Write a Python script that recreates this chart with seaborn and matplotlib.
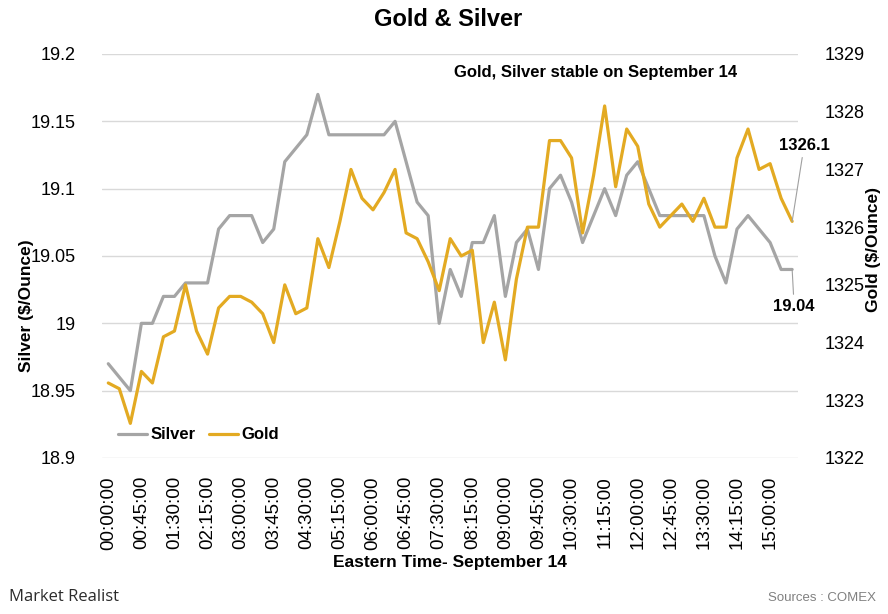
import pandas as pd
import seaborn as sns
import matplotlib.pyplot as plt

# ====================== DATA ======================
# Silver ($/oz) and Gold ($/oz), every 15 minutes on September 14
silver = [18.97, 18.96, 18.95, 19.00, 19.00, 19.02, 19.02, 19.03, 19.03, 19.03,
          19.07, 19.08, 19.08, 19.08, 19.06, 19.07, 19.12, 19.13, 19.14, 19.17,
          19.14, 19.14, 19.14, 19.14, 19.14, 19.14, 19.15, 19.12, 19.09, 19.08,
          19.00, 19.04, 19.02, 19.06, 19.06, 19.08, 19.02, 19.06, 19.07, 19.04,
          19.10, 19.11, 19.09, 19.06, 19.08, 19.10, 19.08, 19.11, 19.12, 19.10,
          19.08, 19.08, 19.08, 19.08, 19.08, 19.05, 19.03, 19.07, 19.08, 19.07,
          19.06, 19.04, 19.04]
gold = [1323.3, 1323.2, 1322.6, 1323.5, 1323.3, 1324.1, 1324.2, 1325.0, 1324.2, 1323.8,
        1324.6, 1324.8, 1324.8, 1324.7, 1324.5, 1324.0, 1325.0, 1324.5, 1324.6, 1325.8,
        1325.3, 1326.1, 1327.0, 1326.5, 1326.3, 1326.6, 1327.0, 1325.9, 1325.8, 1325.4,
        1324.9, 1325.8, 1325.5, 1325.6, 1324.0, 1324.7, 1323.7, 1325.1, 1326.0, 1326.0,
        1327.5, 1327.5, 1327.2, 1325.9, 1326.9, 1328.1, 1326.7, 1327.7, 1327.4, 1326.4,
        1326.0, 1326.2, 1326.4, 1326.1, 1326.5, 1326.0, 1326.0, 1327.2, 1327.7, 1327.0,
        1327.1, 1326.5, 1326.1]
times = pd.date_range("2017-09-14 00:00", periods=len(silver), freq="15min").strftime("%H:%M:%S").tolist()

silver_ticks = [18.9, 18.95, 19.0, 19.05, 19.1, 19.15, 19.2]
silver_ticklabels = ["18.9", "18.95", "19", "19.05", "19.1", "19.15", "19.2"]
gold_ticks = [1322, 1323, 1324, 1325, 1326, 1327, 1328, 1329]

SILVER_C = "#A5A5A5"
GOLD_C = "#E3AA22"

df = pd.DataFrame({"pos": range(len(times)), "time": times, "Silver": silver, "Gold": gold})

# ====================== PLOT ======================
sns.set_style("white")
plt.rcParams["font.family"] = ["Liberation Sans", "DejaVu Sans"]
plt.rcParams.update({"text.color": "black", "axes.labelcolor": "black",
                     "xtick.color": "black", "ytick.color": "black"})

fig = plt.figure(figsize=(8.88, 6.14), dpi=100)
ax = fig.add_axes([102 / 888, 1 - 458 / 614, 696 / 888, 404 / 614])
ax2 = ax.twinx()

sns.lineplot(data=df, x="pos", y="Silver", ax=ax, color=SILVER_C, lw=2.3, label="Silver", legend=False)
sns.lineplot(data=df, x="pos", y="Gold", ax=ax2, color=GOLD_C, lw=2.3, label="Gold", legend=False)

ax.set_xlim(-0.57, 62.53)
ax.set_ylim(18.9, 19.2)
ax2.set_ylim(1322, 1329)

ax.set_yticks(silver_ticks)
ax.set_yticklabels(silver_ticklabels)
ax2.set_yticks(gold_ticks)
ax.set_xticks(df["pos"][::3])
ax.set_xticklabels(df["time"][::3], rotation=90)

ax.tick_params(axis="y", length=0, pad=19, labelsize=13)
ax2.tick_params(axis="y", length=0, pad=19, labelsize=13)
ax.tick_params(axis="x", length=0, pad=13, labelsize=13.5)

ax.grid(axis="y", color="#D9D9D9", lw=1)
ax.grid(axis="x", visible=False)
ax2.grid(False)
for a in (ax, ax2):
    for s in a.spines.values():
        s.set_visible(False)

ax.set_ylabel("Silver ($/Ounce)", fontsize=12.5, fontweight="bold")
ax.yaxis.set_label_coords(-0.097, 0.377)
ax2.set_ylabel("Gold ($/Ounce)", fontsize=12.5, fontweight="bold")
ax2.yaxis.set_label_coords(1.097, 0.517)
ax.set_xlabel("Eastern Time- September 14", fontsize=12.5, fontweight="bold")
ax.xaxis.set_label_coords(0.5, -0.24)

# legend
h1, l1 = ax.get_legend_handles_labels()
h2, l2 = ax2.get_legend_handles_labels()
leg = ax2.legend(h1 + h2, l1 + l2, loc="center left", bbox_to_anchor=(0.023, 0.057),
                 ncol=2, frameon=False, borderpad=0, borderaxespad=0,
                 handlelength=1.75, handletextpad=0.2, columnspacing=0.8,
                 prop={"weight": "bold", "size": 12})

# end-point labels
ax2.annotate("1326.1", xy=(df["pos"].iloc[-1], gold[-1]), xytext=(12, 76), textcoords="offset pixels",
             ha="center", va="center", fontsize=12, fontweight="bold",
             arrowprops=dict(arrowstyle="-", color="#A0A0A0", lw=0.8, shrinkA=1, shrinkB=0))
ax.annotate("19.04", xy=(df["pos"].iloc[-1], silver[-1]), xytext=(2, -37), textcoords="offset pixels",
            ha="center", va="center", fontsize=12, fontweight="bold",
            arrowprops=dict(arrowstyle="-", color="#A0A0A0", lw=0.8, shrinkA=1, shrinkB=0))

ax2.text(596, 614 - 72.7, "Gold, Silver stable on September 14", transform=None,
         ha="center", va="center", fontsize=12, fontweight="bold")

fig.text(448.5 / 888, 1 - 20 / 614, "Gold & Silver", ha="center", va="center",
         fontsize=17, fontweight="bold")
fig.text(9 / 888, 1 - 597 / 614, "Market Realist", ha="left", va="center",
         fontsize=12, color="#2B2B2B", family=["Open Sans", "DejaVu Sans"])
fig.text(876 / 888, 1 - 598 / 614, "Sources : COMEX", ha="right", va="center",
         fontsize=9.5, color="#808080")

plt.savefig("out.png", dpi=100)
